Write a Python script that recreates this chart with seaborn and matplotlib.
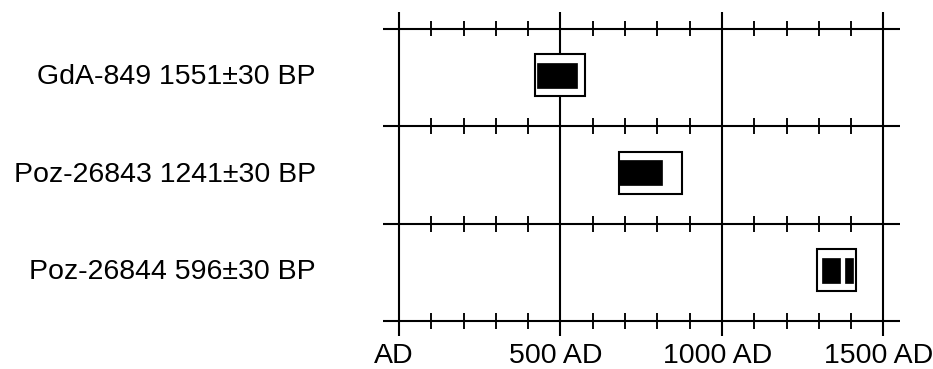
import matplotlib
matplotlib.use("Agg")
import matplotlib.pyplot as plt
from matplotlib.patches import Rectangle
import seaborn as sns
import numpy as np

# ---- data ----
labels = ["GdA-849 1551\u00b130 BP", "Poz-26843 1241\u00b130 BP", "Poz-26844 596\u00b130 BP"]
range95_lo = [420, 680, 1293]
range95_hi = [577, 877, 1415]
# 68% ranges: list of (start, end) segments for each sample
range68 = [[(428, 552)], [(680, 815)], [(1310, 1366), (1382, 1406)]]
major_ticks = [0, 500, 1000, 1500]
major_labels = ["AD", "500 AD", "1000 AD", "1500 AD"]
minor_step = 100
axis_lo, axis_hi = -50, 1550

sns.set_theme(style="white")
plt.rcParams["font.family"] = ["Liberation Sans", "DejaVu Sans"]

fig = plt.figure(figsize=(9.33, 3.69), dpi=100)
ax = fig.add_axes([0, 0, 1, 1])
ax.set_xlim(-1235.3, 1653.3)
ax.set_ylim(2.992, -0.7923)
ax.axis("off")

lw = 1.5
n = len(labels)
seps = np.arange(n + 1) - 0.5

# horizontal separators with minor ticks
for ys in seps:
    ax.plot([axis_lo, axis_hi], [ys, ys], color="black", lw=lw, solid_capstyle="butt")
    for t in range(minor_step, 1500, minor_step):
        ax.plot([t, t], [ys - 0.082, ys + 0.082], color="black", lw=lw * 0.9,
                solid_capstyle="butt")

# major vertical lines
for t in major_ticks:
    ax.plot([t, t], [seps[0] - 0.165, seps[-1] + 0.155], color="black", lw=lw,
            solid_capstyle="butt")

# tick labels
for t, lab in zip(major_ticks, major_labels):
    ax.text(t - 15, 2.855, lab, ha="center", va="center", fontsize=20.5, color="black")

# sample rows
for i in range(n):
    yc = i - 0.02
    ax.text(-258, i, labels[i], ha="right", va="center", fontsize=20.5, color="black")
    ax.add_patch(Rectangle((range95_lo[i], yc - 0.215), range95_hi[i] - range95_lo[i], 0.43,
                           facecolor="white", edgecolor="black", lw=lw, zorder=3))
    for a, b in range68[i]:
        ax.add_patch(Rectangle((a, yc - 0.128), b - a, 0.256,
                               facecolor="black", edgecolor="black", lw=0.5, zorder=4))

fig.savefig("out.png", dpi=100, facecolor="white")
